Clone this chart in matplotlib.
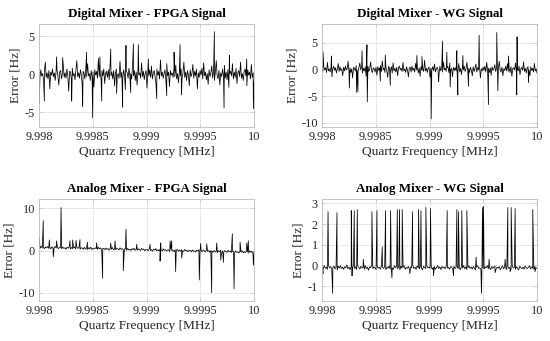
import numpy as np
import matplotlib
matplotlib.use("Agg")
import matplotlib.pyplot as plt

plt.rcParams["font.family"] = ["Liberation Serif", "DejaVu Serif"]

# x range of every sweep [MHz]
f_start, f_stop = 9.998, 10.0
xticks = [9.998, 9.9985, 9.999, 9.9995, 10.0]
xticklabels = ["9.998", "9.9985", "9.999", "9.9995", "10"]

titles = [
    "Digital Mixer - FPGA Signal",
    "Digital Mixer - WG Signal",
    "Analog Mixer - FPGA Signal",
    "Analog Mixer - WG Signal",
]

# background noise of each sweep (evenly spaced over the range) [Hz]
noise_dig_fpga = [
    0.3, -0.5, 0.6, -0.2, 0.1, -0.7, 0.4, 1.6, -0.4, 0.2, -0.6, 0.5, -1.9, 0.3, -0.1, 0.7, -0.3, 0.2, -0.8, 0.4,
    0.6, -0.2, -1.4, 0.3, 0.5, -0.6, 0.1, 1.2, -0.4, 0.2, -0.5, 0.7, -0.1, -2.2, 0.4, 0.3, -0.6, 0.8, -0.2, 0.1,
    -0.7, 0.5, 1.8, -0.3, 0.2, -0.5, 0.6, -0.1, -1.3, 0.4, 0.2, -0.6, 0.7, -0.3, 1.4, -0.2, 0.1, -0.8, 0.5, -0.4,
    0.3, -1.7, 0.6, -0.1, 0.4, -0.5, 2.1, -0.3, 0.2, -0.6, 0.5, -0.2, 0.7, -1.2, 0.1, 0.4, -0.4, 0.6, -0.7, 1.3,
    -0.2, 0.3, -0.6, 0.5, -1.5, 0.2, 0.7, -0.3, 0.1, -0.5, 1.7, -0.4, 0.3, -0.7, 0.6, -0.1, -2.0, 0.4, 0.2, -0.5,
    0.8, -0.3, 0.1, -0.6, 1.2, -0.2, 0.5, -0.8, 0.3, -1.4, 0.6, -0.1, 0.2, -0.5, 1.5, -0.3, 0.4, -0.7, 0.1, 0.5,
    -1.8, 0.3, -0.2, 0.6, -0.4, 1.1, -0.6, 0.2, 0.5, -0.3, -1.2, 0.7, -0.1, 0.4, -0.6, 1.9, -0.2, 0.3, -0.5, 0.1,
    0.6, -0.7, 1.4, -0.2, 0.3, -1.6, 0.5, -0.1, 0.2, -0.4, 0.8, -0.3, 1.2, -0.6, 0.1, -1.1, 0.4, -0.2, 0.7, -0.5,
    0.2, 1.6, -0.4, 0.3, -0.8, 0.5, -0.1, -1.5, 0.6, -0.3, 0.1, 1.3, -0.5, 0.4, -0.2, 0.7, -1.9, 0.2, -0.4, 0.5,
    -0.1, 0.8, -0.6, 1.5, -0.2, 0.3, -0.7, 0.1, -1.3, 0.6, -0.3, 0.2, 1.1, -0.5, 0.4, -0.8, 0.3, 1.8, -0.2, -0.6,
    0.5, -1.4, 0.2, -0.3, 0.7, -0.1, 1.2, -0.5, 0.3, -0.7, 0.6, -1.7, 0.1, 0.4, -0.2, 1.4, -0.6, 0.3, -0.4, 0.8,
    -1.2, 0.2, 0.5, -0.3, 1.6, -0.5, 0.1, -0.8, 0.4, 0.7, -0.2, -1.5, 0.6, -0.1, 0.3, -0.6, 1.3, -0.4, 0.2, -0.9,
]
noise_dig_wg = [
    0.2, -0.4, 0.5, -0.1, 0.3, -0.6, 1.3, -0.3, 0.1, -0.5, 0.4, -1.4, 0.2, 0.6, -0.2, 0.3, -0.7, 0.1, 1.1, -0.4,
    0.5, -0.2, 0.1, -1.2, 0.4, -0.3, 0.6, -0.1, 0.2, 1.5, -0.5, 0.3, -0.6, 0.1, -1.6, 0.4, 0.2, -0.3, 0.7, -0.2,
    -0.5, 0.3, 1.2, -0.1, 0.4, -0.7, 0.2, -0.3, 0.5, -1.3, 0.1, 0.6, -0.4, 0.2, 1.4, -0.2, -0.6, 0.3, 0.1, -0.5,
    0.4, -1.1, 0.5, -0.2, 0.3, 0.7, -0.4, 1.6, -0.1, 0.2, -0.6, 0.4, -0.3, -1.5, 0.6, 0.1, -0.2, 0.5, -0.7, 1.2,
    -0.3, 0.2, -0.5, 0.4, -1.2, 0.3, 0.6, -0.1, 0.2, -0.4, 1.3, -0.3, 0.1, -0.6, 0.5, -0.2, -1.4, 0.3, 0.4, -0.5,
    0.6, -0.2, 0.2, -0.5, 1.1, -0.1, 0.4, -0.7, 0.3, -1.3, 0.5, -0.2, 0.1, -0.4, 1.7, -0.3, 0.2, -0.6, 0.3, 0.4,
    -1.5, 0.2, -0.1, 0.5, -0.3, 1.0, -0.5, 0.1, 0.4, -0.2, -1.1, 0.6, -0.3, 0.3, -0.5, 1.4, -0.1, 0.2, -0.4, 0.3,
    0.5, -0.6, 1.2, -0.1, 0.2, -1.4, 0.4, -0.2, 0.3, -0.3, 0.6, -0.4, 1.1, -0.5, 0.2, -1.0, 0.3, -0.1, 0.6, -0.4,
    0.1, 1.3, -0.3, 0.2, -0.6, 0.4, -0.2, -1.2, 0.5, -0.4, 0.2, 1.0, -0.5, 0.3, -0.1, 0.6, -1.6, 0.1, -0.3, 0.4,
    -0.2, 0.6, -0.5, 1.3, -0.1, 0.2, -0.6, 0.3, -1.1, 0.5, -0.2, 0.1, 0.9, -0.4, 0.3, -0.7, 0.2, 1.5, -0.1, -0.5,
    0.4, -1.2, 0.1, -0.2, 0.6, -0.3, 1.1, -0.4, 0.2, -0.6, 0.5, -1.3, 0.2, 0.3, -0.1, 1.2, -0.5, 0.2, -0.3, 0.6,
    -1.0, 0.1, 0.4, -0.2, 1.4, -0.4, 0.2, -0.7, 0.3, 0.5, -0.1, -1.2, 0.5, -0.2, 0.2, -0.5, 1.1, -0.3, 0.1, -0.7,
]
noise_ana_fpga = [
    0.9, 0.55, 1.0, 0.6, 0.75, 0.45, 0.85, 0.65, 0.95, 0.5, 0.8, 0.4, 0.9, 0.7, 0.55, 1.0, 0.6, 0.8, 0.45, 0.75,
    0.75, 0.4, 0.85, 0.5, 0.65, 0.3, 0.8, 0.55, 0.9, 0.35, 0.7, 0.45, 0.6, 0.8, 0.4, 0.85, 0.5, 0.7, 0.3, 0.65,
    0.6, 0.3, 0.75, 0.35, 0.55, 0.2, 0.7, 0.4, 0.8, 0.25, 0.5, 0.35, 0.65, 0.45, 0.3, 0.75, 0.4, 0.6, 0.2, 0.5,
    0.5, 0.2, 0.6, 0.25, 0.45, 0.1, 0.55, 0.3, 0.7, 0.15, 0.4, 0.2, 0.55, 0.35, 0.15, 0.65, 0.3, 0.45, 0.1, 0.4,
    0.4, 0.05, 0.5, 0.15, 0.3, 0.0, 0.45, 0.2, 0.55, 0.05, 0.3, 0.1, 0.4, 0.25, 0.0, 0.5, 0.2, 0.35, -0.05, 0.25,
    0.25, -0.05, 0.4, 0.0, 0.2, -0.15, 0.3, 0.1, 0.45, -0.1, 0.2, -0.05, 0.3, 0.1, -0.1, 0.4, 0.05, 0.2, -0.15, 0.15,
    0.15, -0.2, 0.25, -0.1, 0.05, -0.25, 0.2, -0.05, 0.3, -0.2, 0.1, -0.15, 0.2, 0.0, -0.2, 0.25, -0.1, 0.1, -0.3, 0.05,
    0.05, -0.3, 0.15, -0.2, -0.05, -0.35, 0.1, -0.15, 0.2, -0.3, 0.0, -0.25, 0.1, -0.1, -0.3, 0.15, -0.2, 0.0, -0.4, -0.05,
    -0.1, -0.4, 0.0, -0.35, -0.15, -0.5, -0.05, -0.25, 0.05, -0.45, -0.1, -0.4, 0.0, -0.2, -0.45, 0.05, -0.3, -0.1, -0.5, -0.2,
    -0.2, -0.55, -0.1, -0.45, -0.3, -0.6, -0.15, -0.4, -0.05, -0.55, -0.25, -0.5, -0.1, -0.35, -0.6, -0.05, -0.45, -0.2, -0.65, -0.3,
]
noise_ana_wg = [
    -0.05, -0.18, -0.02, -0.14, -0.08, -0.20, 0.00, -0.12, -0.06, -0.16,
    -0.10, -0.03, -0.17, -0.07, -0.22, -0.04, -0.13, -0.01, -0.15, -0.09,
    -0.19, -0.06, -0.11, 0.02, -0.16, -0.08, -0.21, -0.05, -0.12, -0.03,
    -0.14, -0.07, -0.20, -0.02, -0.10, -0.17, -0.04, -0.13, -0.08, -0.18,
    -0.01, -0.15, -0.09, -0.23, -0.06, -0.11, 0.01, -0.16, -0.07, -0.12,
    -0.20, -0.04, -0.13, -0.08, -0.18, -0.02, -0.10, -0.15, -0.05, -0.21,
    -0.09, -0.14, -0.03, -0.17, -0.07, -0.12, -0.19, -0.01, -0.11, -0.06,
    -0.16, -0.08, -0.22, -0.04, -0.13, -0.09, -0.02, -0.18, -0.10, -0.14,
    -0.05, -0.20, -0.07, -0.12, 0.00, -0.15, -0.08, -0.19, -0.03, -0.11,
    -0.17, -0.06, -0.13, -0.21, -0.04, -0.10, -0.16, -0.02, -0.12, -0.08,
    -0.14, -0.03, -0.19, -0.09, -0.06, -0.18, -0.11, -0.01, -0.15, -0.07,
    -0.20, -0.05, -0.12, -0.08, -0.16, -0.02, -0.13, -0.10, -0.18, -0.06,
    -0.08, -0.19, -0.04, -0.15, -0.11, -0.02, -0.17, -0.09, -0.21, -0.06,
    -0.13, -0.01, -0.16, -0.07, -0.20, -0.10, -0.03, -0.14, -0.08, -0.18,
    -0.05, -0.12, -0.22, -0.09, -0.02, -0.15, -0.11, -0.19, -0.04, -0.13,
    -0.17, -0.07, -0.12, -0.01, -0.16, -0.10, -0.20, -0.05, -0.14, -0.08,
    -0.03, -0.18, -0.09, -0.13, -0.06, -0.21, -0.11, -0.02, -0.16, -0.07,
    -0.12, -0.20, -0.05, -0.15, -0.08, -0.17, -0.01, -0.13, -0.10, -0.19,
    -0.06, -0.14, -0.22, -0.04, -0.11, -0.16, -0.08, -0.18, -0.03, -0.12,
    -0.15, -0.09, -0.02, -0.17, -0.07, -0.13, -0.20, -0.05, -0.11, -0.14,
]

# single-sample outliers: frequency [MHz], error [Hz]
spk_f_dig_fpga = [9.998003, 9.998050, 9.998164, 9.998220, 9.998304, 9.998406, 9.998443,
                  9.998499, 9.998567, 9.998583, 9.998667, 9.998722, 9.998778, 9.998809,
                  9.998853, 9.998878, 9.998924, 9.999017, 9.999095, 9.999188, 9.999256,
                  9.999312, 9.999325, 9.999631, 9.999721, 9.999771, 9.999932, 9.999994]
spk_v_dig_fpga = [-3.8, -3.5, 2.3, 2.2, -3.5, -4.2, 2.9,
                  -5.7, 2.3, -3.5, 3.3, -2.5, -4.3, 3.8,
                  -2.4, 4.0, 3.9, 2.0, -3.2, -2.8, 2.9,
                  3.9, -2.7, 5.6, -4.4, 2.5, 2.0, -4.5]

spk_f_dig_wg = [9.998009, 9.998087, 9.998254, 9.998322, 9.998334, 9.998372, 9.998418,
                9.998421, 9.998542, 9.998588, 9.998635, 9.998882, 9.998929, 9.999015,
                9.999084, 9.999121, 9.999161, 9.999192, 9.999254, 9.999263, 9.999310,
                9.999362, 9.999461, 9.999548, 9.999625, 9.999635, 9.999734, 9.999811,
                9.999814, 9.999920]
spk_v_dig_wg = [3.3, 2.5, -3.5, -4.3, -4.2, 3.5, 4.6,
                -6.1, -2.2, 2.7, -3.0, 2.6, 2.4, -9.3,
                -2.3, 5.3, 3.2, -3.3, 3.5, -4.8, 2.6,
                -3.2, 6.4, -6.6, 6.9, -4.0, 2.5, -4.8,
                6.1, -2.5]

spk_f_ana_fpga = [9.998003, 9.998040, 9.998096, 9.998133, 9.998164, 9.998205, 9.998288,
                  9.998313, 9.998344, 9.998381, 9.998450, 9.998536, 9.998592, 9.998667,
                  9.998707, 9.998784, 9.998809, 9.998909, 9.999033, 9.999126, 9.999132,
                  9.999219, 9.999234, 9.999271, 9.999327, 9.999491, 9.999504, 9.999560,
                  9.999606, 9.999653, 9.999690, 9.999715, 9.999798, 9.999814, 9.999870,
                  9.999932, 9.999947, 9.999994]
spk_v_ana_fpga = [2.9, 7.1, 2.5, -1.5, 2.3, 10.2, 2.3,
                  2.5, 2.4, 2.6, 2.0, 1.8, -6.6, 1.8,
                  2.3, -4.8, 5.1, 1.5, 1.5, -2.5, 1.8,
                  2.3, 2.3, -5.0, -1.8, -7.0, 1.7, 1.6,
                  -10.0, 1.8, -2.3, -2.8, 4.0, -9.1, 2.0,
                  1.8, 2.3, -3.5]

spk_f_ana_wg = [9.998009, 9.998056, 9.998099, 9.998139, 9.998272, 9.998279, 9.998300,
                9.998328, 9.998384, 9.998464, 9.998511, 9.998560, 9.998591, 9.998638,
                9.998650, 9.998700, 9.998721, 9.998746, 9.998817, 9.998842, 9.998898,
                9.998920, 9.998966, 9.999009, 9.999037, 9.999164, 9.999223, 9.999254,
                9.999269, 9.999300, 9.999347, 9.999433, 9.999483, 9.999492, 9.999502,
                9.999554, 9.999610, 9.999703, 9.999728, 9.999749, 9.999759, 9.999796,
                9.999960, 9.999981]
spk_v_ana_wg = [-0.4, 2.6, -1.35, 2.55, 2.65, -0.5, 2.65,
                2.7, 0.3, 2.6, 2.65, 0.9, 2.65, 2.65,
                -0.6, 2.7, 2.7, 2.7, -0.4, 2.6, 2.7,
                2.65, 2.8, 2.75, -0.5, 2.65, -0.5, 2.7,
                2.6, 2.65, 2.65, 0.4, -1.35, 2.8, 2.85,
                0.3, -0.35, 0.3, 2.8, -0.3, 2.8, 2.75,
                2.7, -0.3]

noises = [noise_dig_fpga, noise_dig_wg, noise_ana_fpga, noise_ana_wg]
spk_fs = [spk_f_dig_fpga, spk_f_dig_wg, spk_f_ana_fpga, spk_f_ana_wg]
spk_vs = [spk_v_dig_fpga, spk_v_dig_wg, spk_v_ana_fpga, spk_v_ana_wg]

ylims = [(-6.9, 6.6), (-10.8, 8.5), (-12.0, 12.2), (-1.72, 3.2)]
yticks = [[-5, 0, 5], [-10, -5, 0, 5], [-10, 0, 10], [-1, 0, 1, 2, 3]]
yticklabels = [["-5", "0", "5"], ["-10", "-5", "0", "5"], ["-10", "0", "10"],
               ["-1", "0", "1", "2", "3"]]

# axes boxes [left, bottom, width, height] in figure fractions
positions = [
    [0.0709, 0.6276, 0.391, 0.302],
    [0.5855, 0.6276, 0.391, 0.302],
    [0.0709, 0.1173, 0.391, 0.2985],
    [0.5855, 0.1173, 0.391, 0.2985],
]

fig = plt.figure(figsize=(5.5, 3.41), dpi=100)

for i in range(4):
    ax = fig.add_axes(positions[i])
    noise = np.asarray(noises[i], dtype=float)
    f_noise = np.linspace(f_start, f_stop, len(noise))
    f_all = np.concatenate([f_noise, spk_fs[i]])
    v_all = np.concatenate([noise, spk_vs[i]])
    order = np.argsort(f_all, kind="stable")
    ax.plot(f_all[order], v_all[order], color="black", lw=0.55)

    ax.set_xlim(f_start, f_stop)
    ax.set_ylim(*ylims[i])
    ax.set_xticks(xticks)
    ax.set_xticklabels(xticklabels)
    ax.set_yticks(yticks[i])
    ax.set_yticklabels(yticklabels[i])
    ax.grid(True, color="#e3e3e3", lw=0.6)
    ax.set_axisbelow(True)
    for sp in ax.spines.values():
        sp.set_color("#bdbdbd")
        sp.set_linewidth(0.6)
    ax.tick_params(direction="in", length=2, width=0.5, color="#bdbdbd",
                   labelsize=8.8, labelcolor="#262626", pad=3,
                   top=True, right=True)
    ax.set_title(titles[i], fontsize=9.4, fontweight="bold", pad=5)
    ax.set_xlabel("Quartz Frequency [MHz]", fontsize=9.6, labelpad=2, color="#262626")
    ax.set_ylabel("Error [Hz]", fontsize=9.6, labelpad=2, color="#262626")

fig.savefig("out.png", dpi=100)
